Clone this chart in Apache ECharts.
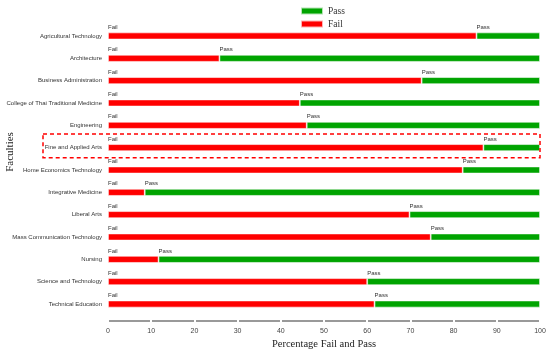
<!DOCTYPE html>
<html>
<head>
<meta charset="utf-8">
<script src="https://cdn.jsdelivr.net/npm/echarts@6/dist/echarts.min.js"></script>
<style>html,body{margin:0;padding:0;background:#fff}#c{width:550px;height:349px}</style>
</head>
<body>
<div id="c"></div>
<script>
const faculties = ['Agricultural Technology','Architecture','Business Administration','College of Thai Traditional Medicine','Engineering','Fine and Applied Arts','Home Economics Technology','Integrative Medicine','Liberal Arts','Mass Communication Technology','Nursing','Science and Technology','Technical Education'];
const failPct = [85.3, 25.8, 72.6, 44.4, 46.0, 86.9, 82.1, 8.5, 69.8, 74.7, 11.7, 60.0, 61.7];
const passPct = failPct.map(v => +(100 - v).toFixed(1));
const xTicks = [0,10,20,30,40,50,60,70,80,90,100];
const highlighted = 'Fine and Applied Arts';

const RED = '#ff0000', GREEN = '#00a400';
const small = {fontFamily: 'Liberation Sans', fontSize: 6, color: '#333'};
const chart = echarts.init(document.getElementById('c'), null, {renderer: 'canvas'});
const barLabel = txt => ({show: true, formatter: txt, position: [0, -2], align: 'left', verticalAlign: 'bottom', ...small});
chart.setOption({
  animation: false,
  legend: {
    data: ['Pass', 'Fail'], orient: 'vertical', left: 295, top: 0,
    itemWidth: 22, itemHeight: 7, itemGap: 1, icon: 'rect',
    textStyle: {fontFamily: 'Liberation Serif', fontSize: 9.5, color: '#333', lineHeight: 12}
  },
  grid: {left: 108, right: 10, top: 24.8, bottom: 33.8, containLabel: false, outerBoundsMode: 'none'},
  xAxis: [{
    type: 'value', min: 0, max: 100, interval: 10, offset: 6,
    axisLine: {show: true, lineStyle: {color: '#999', width: 2}},
    axisTick: {show: true, length: 2, lineStyle: {color: '#fff', width: 2}},
    splitLine: {show: false},
    axisLabel: {fontFamily: 'Liberation Sans', fontSize: 7, color: '#444', margin: 6,
      formatter: v => xTicks.includes(v) ? String(v) : ''},
    name: 'Percentage Fail and Pass', nameLocation: 'middle', nameGap: 11,
    nameTextStyle: {fontFamily: 'Liberation Serif', fontSize: 10.5, color: '#222'}
  }, {
    type: 'value', min: 0, max: 100, interval: 10, offset: 6, position: 'bottom',
    axisLine: {show: false}, axisLabel: {show: false}, splitLine: {show: false},
    axisTick: {show: true, inside: true, length: 2, lineStyle: {color: '#fff', width: 2}}
  }],
  yAxis: {
    type: 'category', data: faculties, inverse: true,
    axisLine: {show: false}, axisTick: {show: false},
    axisLabel: {...small, margin: 6}
  },
  series: [
    {name: 'Fail', type: 'bar', stack: 'a', data: failPct, barWidth: 7,
     itemStyle: {color: RED, borderColor: 'rgba(255,255,255,0.7)', borderWidth: 0.8},
     label: barLabel('Fail')},
    {name: 'Pass', type: 'bar', stack: 'a', data: passPct, barWidth: 7,
     itemStyle: {color: GREEN, borderColor: 'rgba(255,255,255,0.7)', borderWidth: 0.8},
     label: barLabel('Pass')}
  ]
});
const cy = chart.convertToPixel({yAxisIndex: 0}, highlighted);
const xr = chart.convertToPixel({xAxisIndex: 0}, 100);
chart.setOption({
  graphic: [
    {type: 'rect', shape: {x: 43, y: cy - 13.7, width: xr - 43, height: 23.7},
     style: {fill: 'none', stroke: RED, lineWidth: 1.5, lineDash: [4, 3]}, z: 10},
    {type: 'text', x: 10, y: 152, rotation: Math.PI / 2, originX: 0, originY: 0,
     style: {text: 'Faculties', fontFamily: 'Liberation Serif', fontSize: 11, fill: '#222', align: 'center', verticalAlign: 'middle'}}
  ]
});
</script>
</body>
</html>
